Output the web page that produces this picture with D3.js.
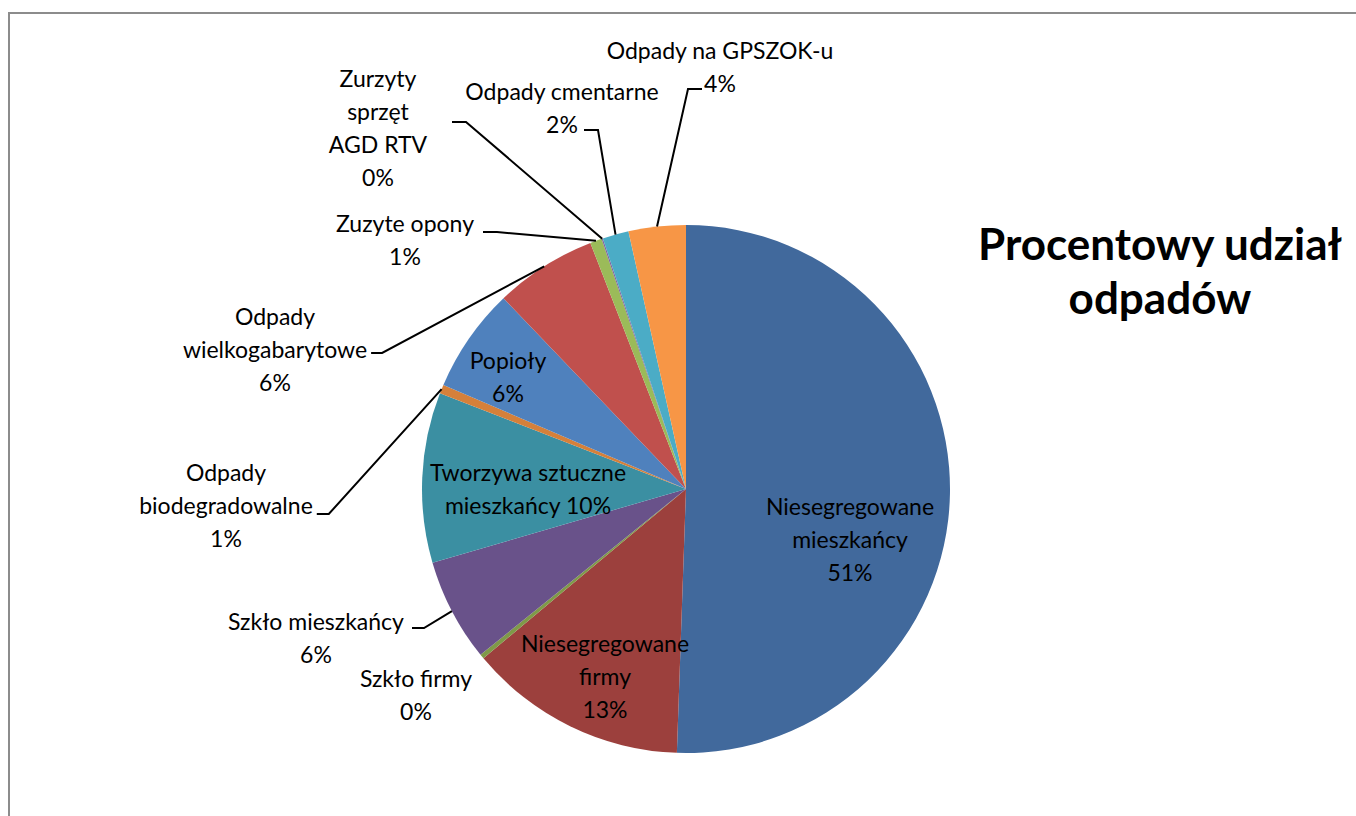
<!DOCTYPE html>
<html>
<head>
<meta charset="utf-8">
<script src="https://cdn.jsdelivr.net/npm/d3@7"></script>
<style>
  html, body { margin: 0; padding: 0; background: #fff; }
  svg { display: block; }
</style>
</head>
<body>
<svg id="chart" width="1356" height="816"></svg>
<script>
// ---------- DATA ----------
const categories = [
  "Niesegregowane mieszkańcy",
  "Niesegregowane firmy",
  "Szkło firmy",
  "Szkło mieszkańcy",
  "Tworzywa sztuczne mieszkańcy",
  "Odpady biodegradowalne",
  "Popioły",
  "Odpady wielkogabarytowe",
  "Zuzyte opony",
  "Zurzyty sprzęt AGD RTV",
  "Odpady cmentarne",
  "Odpady na GPSZOK-u"
];
const values = [50.55, 13.37, 0.28, 6.3, 10.4, 0.55, 6.4, 6.25, 0.72, 0.08, 1.6, 3.5];
const title = ["Procentowy udział", "odpadów"];

// ---------- STYLE / LAYOUT ----------
const colors = ["#41699C", "#9C403D", "#7F9A48", "#69528A", "#3B8FA2", "#D5803A",
                "#4F81BD", "#C0504D", "#9BBB59", "#8064A2", "#4BACC6", "#F79646"];
const cx = 686, cy = 489, R = 264;
const fontFamily = "Lato, 'Open Sans', sans-serif";
const fontSize = 23, lineH = 33;
// word-break positions (break after word index) and whether % goes on its own line
const wrap = [
  {br:[0], pctNew:true}, {br:[0], pctNew:true}, {br:[], pctNew:true}, {br:[], pctNew:true},
  {br:[1], pctNew:false}, {br:[0], pctNew:true}, {br:[], pctNew:true}, {br:[0], pctNew:true},
  {br:[], pctNew:true}, {br:[0,1], pctNew:true}, {br:[], pctNew:true}, {br:[], pctNew:true}
];
// label anchor: x center, y of first line center; leader: horizontal from hx0 to hx1 at hy
const labelPos = [
  {x:850, y:506}, {x:605, y:643}, {x:416, y:678},
  {x:316, y:621, hx0:412, hx1:424, hy:628, left:true},
  {x:528, y:472},
  {x:226, y:472, hx0:313, hx1:325, hy:514, left:true},
  {x:508, y:360},
  {x:275, y:316, hx0:352, hx1:363, hy:353, left:true},
  {x:405, y:223, hx0:483, hx1:497, hy:232, left:true},
  {x:378, y:78,  hx0:452, hx1:466, hy:122, left:true},
  {x:562, y:91,  hx0:584, hx1:598, hy:130, left:true},
  {x:720, y:50,  hx0:702, hx1:688, hy:89}
];

const svg = d3.select("#chart");

// border
svg.append("rect").attr("x", 9).attr("y", 13).attr("width", 1400).attr("height", 900)
  .attr("fill", "none").attr("stroke", "#8c8c8c").attr("stroke-width", 2);

const total = d3.sum(values);
const pie = d3.pie().sort(null).value(d => d)(values);
const arc = d3.arc().innerRadius(0).outerRadius(R);

const g = svg.append("g").attr("transform", `translate(${cx},${cy})`);
g.selectAll("path").data(pie).join("path")
  .attr("d", arc)
  .attr("fill", (d, i) => colors[i]);

const lines = svg.append("g").attr("fill", "none").attr("stroke", "#000").attr("stroke-width", 2);

// labels
const lab = svg.append("g").attr("font-family", fontFamily).attr("font-size", fontSize)
  .attr("fill", "#000").attr("text-anchor", "middle");
const spanNodes = [];
categories.forEach((name, i) => {
  const words = name.split(" ");
  const pct = Math.round(values[i] / total * 100) + "%";
  const w = wrap[i];
  const ls = [];
  let cur = [];
  words.forEach((wd, j) => {
    cur.push(wd);
    if (w.br.includes(j)) { ls.push(cur.join(" ")); cur = []; }
  });
  if (w.pctNew) { ls.push(cur.join(" ")); ls.push(pct); }
  else { cur.push(pct); ls.push(cur.join(" ")); }
  const t = lab.append("text").attr("x", labelPos[i].x).attr("y", labelPos[i].y)
    .attr("dominant-baseline", "central");
  const spans = [];
  ls.forEach((l, k) => {
    const ty = labelPos[i].y + k * lineH;
    const s = t.append("tspan").attr("x", labelPos[i].x).attr("y", ty).text(l);
    spans.push({node: s.node(), y: ty});
  });
  spanNodes.push(spans);
});

// leaders (horizontal stub kept clear of the neighbouring text line)
pie.forEach((d, i) => {
  const p = labelPos[i];
  if (p.hx0 === undefined) return;
  let hx0 = p.hx0, hx1 = p.hx1;
  if (p.left) {
    const near = spanNodes[i].reduce((a, b) => Math.abs(b.y - p.hy) < Math.abs(a.y - p.hy) ? b : a);
    const len = near.node.getComputedTextLength();
    const minStart = p.x + len / 2 + 4;
    if (hx0 < minStart) { const l = hx1 - hx0; hx0 = minStart; hx1 = hx0 + l; }
  }
  const a = (d.startAngle + d.endAngle) / 2;
  const ex = cx + R * Math.sin(a), ey = cy - R * Math.cos(a);
  lines.append("path").attr("d", d3.line()([[hx0, p.hy], [hx1, p.hy], [ex, ey]]));
});

// title
const tt = svg.append("text").attr("font-family", fontFamily).attr("font-weight", "bold")
  .attr("font-size", 44).attr("text-anchor", "middle").attr("dominant-baseline", "central");
title.forEach((l, k) => {
  tt.append("tspan").attr("x", 1160).attr("y", 243 + k * 54).text(l);
});
</script>
</body>
</html>
